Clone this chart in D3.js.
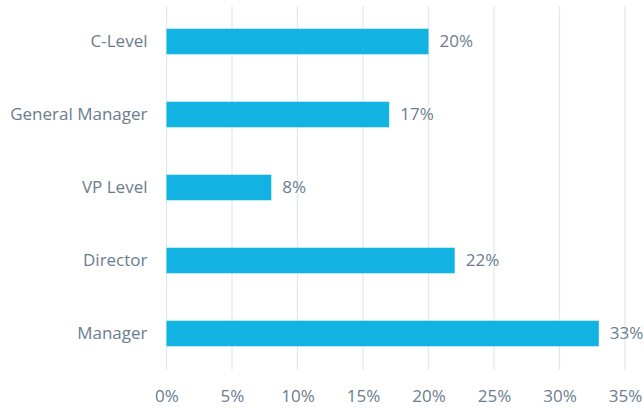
<!DOCTYPE html>
<html>
<head>
<meta charset="utf-8">
<script src="https://cdn.jsdelivr.net/npm/d3@7"></script>
<style>
  html, body { margin: 0; padding: 0; background: #fff; }
  svg { display: block; }
  text { font-family: "Open Sans", sans-serif; }
</style>
</head>
<body>
<svg id="chart" width="644" height="408"></svg>
<script>
// Share of respondents by job level
const categories = ["C-Level", "General Manager", "VP Level", "Director", "Manager"];
const shares = [20, 17, 8, 22, 33];
const tickValues = [0, 5, 10, 15, 20, 25, 30, 35];

const svg = d3.select("#chart");
const margin = { top: 5, right: 19, bottom: 38, left: 166.5 };
const W = 644, H = 408;
const fontSize = 17;

const x = d3.scaleLinear()
  .domain([0, 35])
  .range([margin.left, W - margin.right]);

const y = d3.scaleBand()
  .domain(categories)
  .range([margin.top, H - margin.bottom])
  .paddingInner(0.65)
  .paddingOuter(0.325);

const textColor = "#6b7c8e";

// vertical gridlines
svg.append("g")
  .selectAll("line")
  .data(tickValues)
  .join("line")
  .attr("x1", d => x(d))
  .attr("x2", d => x(d))
  .attr("y1", margin.top + 1)
  .attr("y2", H - margin.bottom)
  .attr("stroke", "#e3e8ee")
  .attr("stroke-width", 1.3);

// bars
svg.append("g")
  .selectAll("rect")
  .data(categories)
  .join("rect")
  .attr("x", x(0))
  .attr("y", d => y(d))
  .attr("width", (d, i) => x(shares[i]) - x(0))
  .attr("height", y.bandwidth())
  .attr("fill", "#12b3e2");

// value labels
svg.append("g")
  .selectAll("text")
  .data(categories)
  .join("text")
  .attr("x", (d, i) => x(shares[i]) + 11)
  .attr("y", d => y(d) + y.bandwidth() / 2)
  .attr("dy", "0.35em")
  .attr("font-size", fontSize)
  .attr("fill", textColor)
  .text((d, i) => shares[i] + "%");

// category axis
const yAxis = d3.axisLeft(y).tickSize(0).tickPadding(19);
const gy = svg.append("g")
  .attr("transform", `translate(${x(0)},0)`)
  .call(yAxis);
gy.select(".domain").remove();
gy.selectAll("text")
  .attr("font-size", fontSize)
  .attr("font-family", "'Open Sans', sans-serif")
  .attr("fill", textColor);

// value axis
const xAxis = d3.axisBottom(x)
  .tickValues(tickValues)
  .tickFormat(d => d + "%")
  .tickSize(0)
  .tickPadding(20);
const gx = svg.append("g")
  .attr("transform", `translate(0,${H - margin.bottom})`)
  .call(xAxis);
gx.select(".domain").remove();
gx.selectAll("text")
  .attr("font-size", fontSize)
  .attr("font-family", "'Open Sans', sans-serif")
  .attr("fill", textColor);
</script>
</body>
</html>
